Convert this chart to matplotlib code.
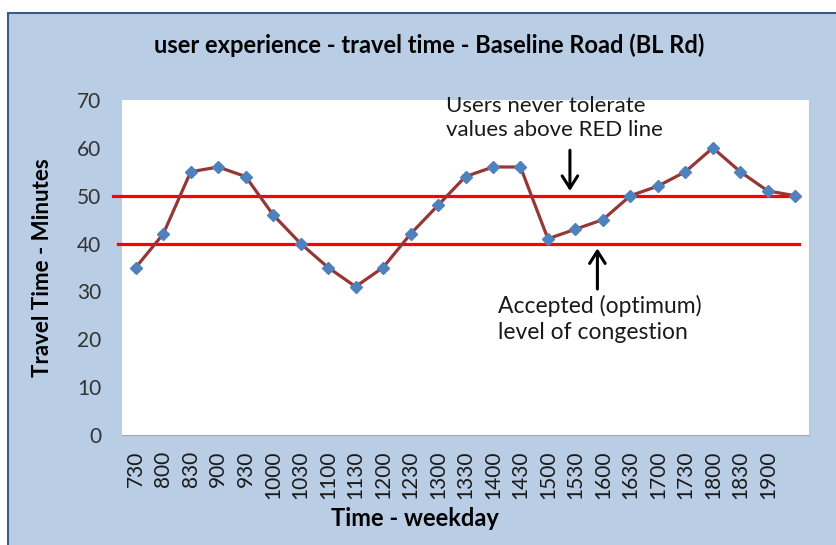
import matplotlib
matplotlib.use("Agg")
import matplotlib.pyplot as plt
from matplotlib.patches import Rectangle

plt.rcParams["font.family"] = ["Lato", "DejaVu Sans"]

times = ["730", "800", "830", "900", "930", "1000", "1030", "1100", "1130",
         "1200", "1230", "1300", "1330", "1400", "1430", "1500", "1530", "1600",
         "1630", "1700", "1730", "1800", "1830", "1900", ""]
minutes = [35, 42, 55, 56, 54, 46, 40, 35, 31, 35, 42, 48, 54, 56, 56,
           41, 43, 45, 50, 52, 55, 60, 55, 51, 50]
limit_never = 50
limit_accepted = 40

BG = "#B9CDE5"
fig = plt.figure(figsize=(8.37, 5.45), dpi=100)
fig.patch.set_facecolor("white")
# outer chart frame (cropped at right/bottom)
fig.patches.append(Rectangle((8 / 837, -0.05), 1.0, (545 - 13) / 545 + 0.05,
                             transform=fig.transFigure, facecolor=BG,
                             edgecolor="#385D8A", linewidth=1.5, zorder=-5))

ax = fig.add_axes([122 / 837, 110 / 545, 687 / 837, 335 / 545])
ax.set_zorder(2)
ax.set_facecolor("white")
for s in ax.spines.values():
    s.set_visible(False)
ax.spines["bottom"].set_visible(True)
ax.spines["bottom"].set_color("#A6A6A6")
ax.spines["right"].set_visible(True)
ax.spines["right"].set_color("#C8C8C8")

x = list(range(len(times)))
ax.plot(x, minutes, color="#953735", linewidth=2.3, marker="D", markersize=6.5,
        markerfacecolor="#4F81BD", markeredgecolor="#4F81BD", zorder=4)

tr = ax.get_yaxis_transform()
ax.plot([-0.013, 0.977], [limit_never] * 2, color="#FF0000", linewidth=2.3,
        transform=tr, clip_on=False, zorder=3)
ax.plot([-0.006, 0.986], [limit_accepted] * 2, color="#FF0000", linewidth=2.3,
        transform=tr, clip_on=False, zorder=3)

ax.set_xlim(-0.5, len(times) - 0.5)
ax.set_ylim(0, 70)
ax.set_yticks(range(0, 71, 10))
ax.set_xticks(x)
ax.set_xticklabels(times, rotation=90, fontsize=15, color="#1a1a1a")
ax.tick_params(axis="y", labelsize=15, colors="#333333", length=0, pad=15)
ax.tick_params(axis="x", length=0, pad=11)

ax.set_ylabel("Travel Time - Minutes", fontsize=16, fontweight="bold", labelpad=17)
fig.text(415 / 837, 1 - 518 / 545, "Time - weekday", ha="center", va="center",
         fontsize=17, fontweight="bold")
fig.text(429 / 837, 1 - 45 / 545, "user experience - travel time - Baseline Road (BL Rd)",
         ha="center", va="center", fontsize=17, fontweight="bold")

arrow = dict(arrowstyle="->,head_length=0.55,head_width=0.35", color="black",
             lw=2.2, mutation_scale=16, shrinkA=0, shrinkB=0)
ax.annotate("", xy=(15.8, 51.0), xytext=(15.8, 59.5), arrowprops=arrow)
ax.annotate("", xy=(16.8, 39.0), xytext=(16.8, 30.5), arrowprops=arrow)
ax.text(11.3, 70.8, "Users never tolerate\nvalues above RED line", fontsize=16,
        va="top", ha="left", linespacing=1.25, color="#1a1a1a", clip_on=False)
ax.text(13.2, 29.2, "Accepted (optimum)\nlevel of congestion", fontsize=16.5,
        va="top", ha="left", linespacing=1.25, color="#1a1a1a")

fig.savefig("out.png", dpi=100)
